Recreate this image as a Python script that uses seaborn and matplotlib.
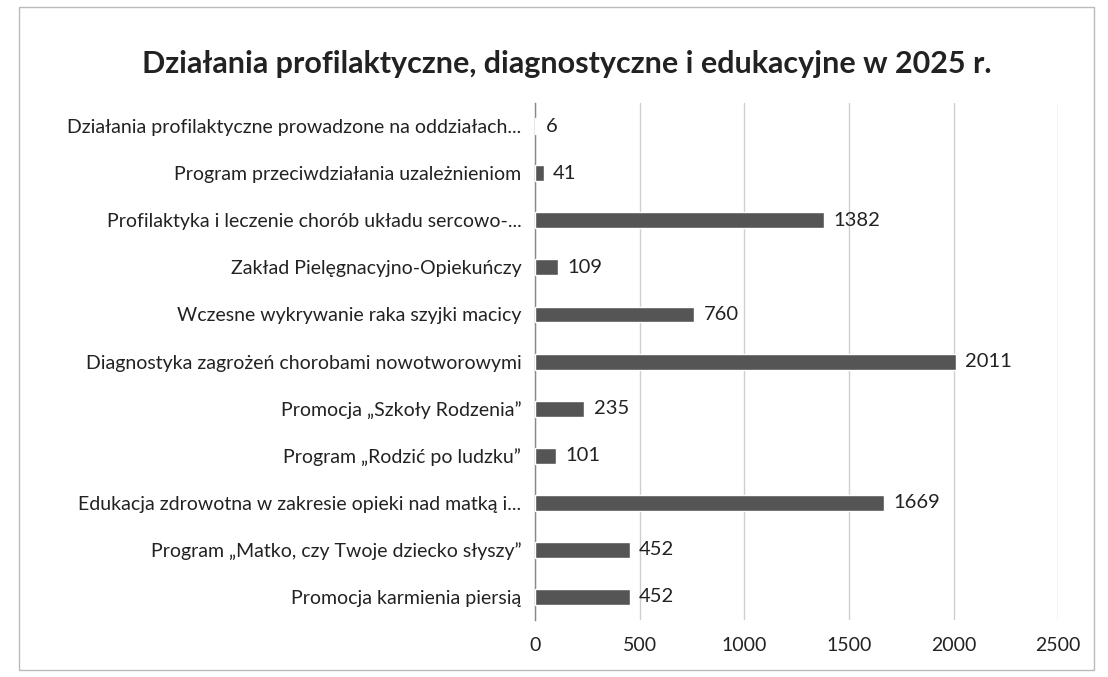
import matplotlib
matplotlib.use("Agg")
import matplotlib.pyplot as plt
import seaborn as sns
import pandas as pd
from matplotlib.patches import Rectangle

categories = [
    "Działania profilaktyczne prowadzone na oddziałach...",
    "Program przeciwdziałania uzależnieniom",
    "Profilaktyka i leczenie chorób układu sercowo-...",
    "Zakład Pielęgnacyjno-Opiekuńczy",
    "Wczesne wykrywanie raka szyjki macicy",
    "Diagnostyka zagrożeń chorobami nowotworowymi",
    "Promocja „Szkoły Rodzenia”",
    "Program „Rodzić po ludzku”",
    "Edukacja zdrowotna w zakresie opieki nad matką i...",
    "Program „Matko, czy Twoje dziecko słyszy”",
    "Promocja karmienia piersią",
]
values = [6, 41, 1382, 109, 760, 2011, 235, 101, 1669, 452, 452]
x_ticks = [0, 500, 1000, 1500, 2000, 2500]
title = "Działania profilaktyczne, diagnostyczne i edukacyjne w 2025 r."

sns.set_theme(style="white")
plt.rcParams["font.family"] = ["Lato", "DejaVu Sans"]

df = pd.DataFrame({"cat": categories, "val": values})

fig = plt.figure(figsize=(11.08, 6.77), dpi=100)
ax = fig.add_axes([0.483, 0.084, 0.472, 0.764])

sns.barplot(data=df, y="cat", x="val", orient="h", color="#555555",
            width=0.34, saturation=1, ax=ax, zorder=3)

ax.set_xlim(0, 2500)
ax.set_xticks(x_ticks)
ax.set_xticklabels([str(t) for t in x_ticks], fontsize=14, color="#222222")
ax.tick_params(axis="x", length=0, pad=12)
ax.tick_params(axis="y", length=0, pad=10, labelsize=14, labelcolor="#222222")
ax.set_xlabel("")
ax.set_ylabel("")
for s in ["top", "right", "bottom"]:
    ax.spines[s].set_visible(False)
ax.spines["left"].set_color("#888888")
ax.spines["left"].set_linewidth(1.0)
ax.xaxis.grid(True, color="#cfcfcf", linewidth=1.0, zorder=0)
ax.set_axisbelow(True)

for i, v in enumerate(values):
    ax.text(v + 45, i, str(v), va="center", ha="left", fontsize=14.5,
            color="#222222")

fig.text(0.512, 0.905, title, ha="center", va="center", fontsize=22,
         fontweight="bold", color="#222222")

fig.patches.append(Rectangle((0.017, 0.01), 0.97, 0.98, transform=fig.transFigure,
                             fill=False, edgecolor="#bbbbbb", linewidth=1.0))

fig.savefig("out.png", dpi=100, facecolor="white")
